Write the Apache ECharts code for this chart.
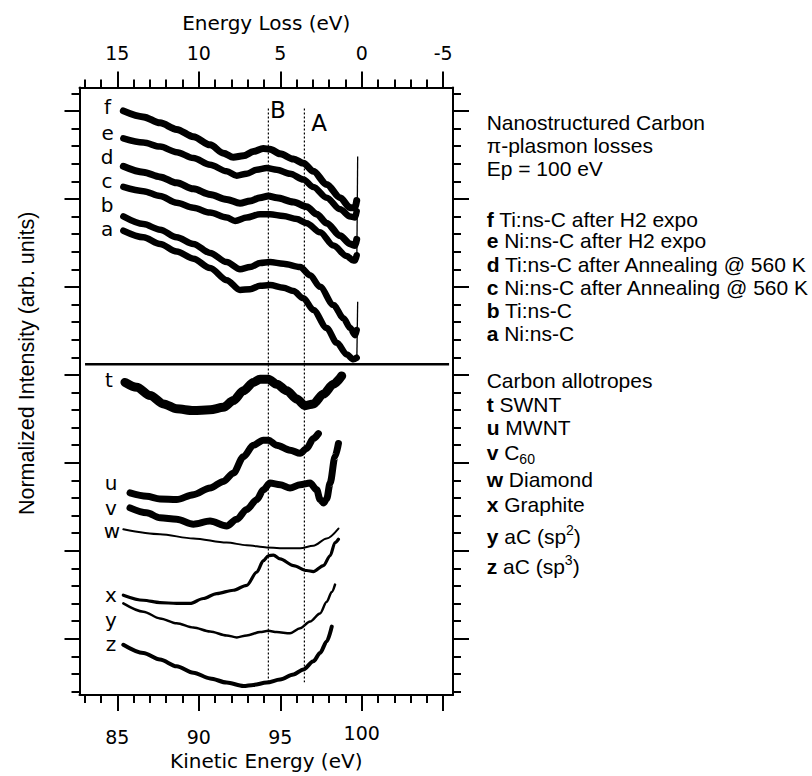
<!DOCTYPE html>
<html>
<head>
<meta charset="utf-8">
<script src="https://cdn.jsdelivr.net/npm/echarts@6/dist/echarts.min.js"></script>
<style>
html,body{margin:0;padding:0;background:#fff;}
#chart{width:812px;height:776px;}
</style>
</head>
<body>
<div id="chart"></div>
<script>
// ---------- axis ticks ----------
const kineticMajorTicks = [85, 90, 95, 100, 105];
const kineticLabelTicks = [85, 90, 95, 100];
const kineticMinorTicks = [83, 84, 86, 87, 88, 89, 91, 92, 93, 94, 96, 97, 98, 99, 101, 102, 103, 104];
const lossLabelTicks = [85, 90, 95, 100, 105];          // positions on kinetic scale; label = 100 - KE
const intensityMajorTicks = [0, 5, 10, 15, 20, 25, 30];
const intensityMinorTicks = [-3, -2, -1, 1, 2, 3, 4, 6, 7, 8, 9, 11, 12, 13, 14, 16, 17, 18, 19, 21, 22, 23, 24, 26, 27, 28, 29, 31];

// ---------- nanostructured carbon (upper panel) ----------
const curveF = [[85.37,30.00],[86.60,29.66],[87.62,29.32],[88.64,28.95],[89.67,28.53],[90.69,28.07],[91.51,27.60],[92.12,27.37],[92.74,27.45],[93.35,27.69],[93.96,27.86],[94.37,27.82],[94.99,27.56],[95.81,27.26],[96.42,27.03],[97.03,26.57],[97.85,25.82],[98.67,25.07],[99.29,24.50],[99.59,24.50],[99.69,24.90]];
const curveE = [[85.37,28.44],[86.60,28.20],[87.62,27.97],[88.64,27.65],[89.67,27.32],[90.69,26.94],[91.71,26.57],[92.33,26.32],[92.94,26.43],[93.56,26.66],[94.17,26.75],[94.78,26.66],[95.60,26.43],[96.42,26.10],[97.03,25.68],[97.85,25.07],[98.67,24.41],[99.29,24.00],[99.59,23.94],[99.69,24.30]];
const curveD = [[85.37,26.85],[86.60,26.51],[87.62,26.25],[88.64,25.91],[89.67,25.57],[90.69,25.25],[91.71,24.97],[92.53,24.75],[93.15,24.88],[93.76,25.07],[94.27,25.16],[94.78,25.07],[95.81,24.82],[96.62,24.56],[97.24,24.13],[97.85,23.62],[98.67,22.91],[99.29,22.44],[99.59,22.35],[99.69,22.70]];
const curveC = [[85.37,25.68],[86.60,25.44],[87.62,25.16],[88.64,24.78],[89.67,24.50],[90.69,24.22],[91.71,23.94],[92.23,23.75],[92.94,23.94],[93.76,24.13],[94.37,24.13],[95.19,24.03],[96.01,23.85],[96.62,23.62],[97.44,23.10],[98.26,22.35],[99.08,21.75],[99.49,21.50],[99.59,21.50],[99.69,21.80]];
const curveB = [[85.37,24.00],[86.60,23.57],[87.62,23.25],[88.64,22.82],[89.67,22.44],[90.69,21.93],[91.71,21.41],[92.53,21.00],[93.15,21.13],[93.76,21.35],[94.37,21.41],[95.19,21.32],[96.22,21.13],[96.83,20.66],[97.44,20.00],[98.26,18.97],[98.88,18.22],[99.29,17.66],[99.59,17.25],[99.69,17.55]];
const curveA = [[85.37,23.19],[86.60,22.82],[87.62,22.44],[88.64,22.01],[89.67,21.60],[90.69,21.07],[91.71,20.38],[92.53,19.82],[93.15,19.87],[93.76,20.06],[94.37,20.10],[95.19,19.95],[95.81,19.76],[96.42,19.35],[97.03,18.69],[97.85,17.66],[98.47,16.82],[99.08,16.16],[99.49,15.88],[99.69,15.97]];
const elasticSpikeUpper = [[99.70,21.60],[99.75,27.41]];
const elasticSpikeLower = [[99.70,15.95],[99.75,19.16]];

// ---------- carbon allotropes (lower panel) ----------
const curveT = [[85.47,14.57],[86.19,14.29],[87.01,13.82],[87.83,13.35],[88.64,13.07],[89.67,12.97],[90.69,13.01],[91.51,13.16],[92.12,13.54],[92.74,14.10],[93.35,14.57],[93.76,14.75],[94.27,14.75],[94.78,14.47],[95.40,14.10],[96.01,13.63],[96.52,13.25],[97.03,13.35],[97.65,13.91],[98.26,14.47],[98.77,14.94]];
const curveU = [[85.78,8.29],[86.80,8.10],[87.62,7.95],[88.64,7.91],[89.67,8.19],[90.69,8.57],[91.51,8.94],[92.12,9.41],[92.74,10.35],[93.35,11.00],[93.96,11.29],[94.27,11.29],[94.78,11.00],[95.60,10.72],[96.22,10.54],[96.62,10.82],[97.03,11.38],[97.34,11.66]];
const curveV = [[85.78,7.44],[86.80,7.16],[87.62,6.88],[88.64,6.79],[89.67,6.51],[90.69,6.69],[91.71,6.41],[92.33,6.79],[92.94,7.35],[93.56,7.91],[93.96,8.47],[94.37,8.85],[94.99,8.76],[95.60,8.57],[96.22,8.76],[96.83,8.85],[97.24,8.47],[97.44,7.91],[97.65,7.72],[97.85,7.95],[98.06,8.85],[98.36,10.35],[98.57,11.10]];
const curveW = [[85.37,6.22],[87.62,5.94],[89.67,5.70],[91.71,5.47],[92.94,5.32],[94.17,5.19],[95.40,5.14],[96.22,5.14],[97.03,5.29],[97.85,5.70],[98.57,6.26]];
const curveX = [[85.37,2.48],[86.60,2.19],[87.62,2.06],[88.64,2.01],[89.46,2.01],[90.28,2.29],[91.10,2.57],[92.12,2.76],[92.94,3.04],[93.56,3.79],[93.96,4.44],[94.27,4.72],[94.58,4.76],[94.99,4.54],[95.81,4.16],[96.62,3.88],[97.03,3.82],[97.65,4.16],[98.06,4.72],[98.36,5.47],[98.57,5.66]];
const curveY = [[85.37,2.01],[86.60,1.54],[87.62,1.16],[88.64,0.88],[89.67,0.64],[90.69,0.41],[91.71,0.19],[92.33,0.08],[92.94,0.19],[93.76,0.38],[94.27,0.45],[94.78,0.38],[95.60,0.32],[96.22,0.60],[96.83,0.98],[97.44,1.44],[97.85,2.10],[98.16,2.66],[98.36,3.08]];
const curveZ = [[85.37,-0.34],[86.60,-0.81],[87.62,-1.18],[88.64,-1.56],[89.67,-1.93],[90.69,-2.25],[91.71,-2.49],[92.74,-2.68],[93.35,-2.62],[94.17,-2.49],[94.99,-2.31],[95.81,-2.03],[96.42,-1.74],[97.03,-1.28],[97.44,-0.81],[97.85,-0.15],[98.16,0.69]];

// ---------- reference lines ----------
const featureB = 94.27;   // kinetic energy of feature B
const featureA = 96.48;   // kinetic energy of feature A
const featureSpan = [30.13, -2.47];
const panelDivider = 15.6;
const panelDividerSpan = [83.02, 105.36];

const AX = 'DejaVu Sans';
const HV = 'Liberation Sans';
const BLACK = '#000';

function curve(name, data, width) {
  return { name, type: 'line', data, xAxisIndex: 0, yAxisIndex: 0, symbol: 'none', showSymbol: false,
    smooth: 0.3, smoothMonotone: 'x', silent: true, lineStyle: { color: BLACK, width, cap: 'round', join: 'round' } };
}
function straight(name, data, width, type) {
  return { name, type: 'line', data, xAxisIndex: 0, yAxisIndex: 0, symbol: 'none', showSymbol: false,
    silent: true, lineStyle: { color: BLACK, width, type: type || 'solid' } };
}

const axLine = { show: true, onZero: false, lineStyle: { color: BLACK, width: 2 } };
const noLine = { show: false, onZero: false };
const xMin = 82.68, xMax = 105.6, yMin = -3.2, yMax = 31.33;

function tickCfg(values, len) {
  return { show: true, inside: false, length: len, customValues: values, lineStyle: { color: BLACK, width: 2 } };
}

const option = {
  backgroundColor: '#fff',
  animation: false,
  grid: { left: 79.5, right: 359, top: 87.5, bottom: 75, containLabel: false },
  xAxis: [
    { type: 'value', position: 'bottom', min: xMin, max: xMax, axisLine: axLine, splitLine: { show: false },
      axisTick: tickCfg(kineticMajorTicks, 16),
      axisLabel: { show: true, customValues: kineticLabelTicks, margin: 28, color: BLACK,
        formatter: v => (v === 100 ? '{r|100}' : '{n|' + v + '}'),
        rich: { n: { fontFamily: AX, fontSize: 19, color: BLACK, padding: [4, 0, 0, 0] },
                r: { fontFamily: AX, fontSize: 19, color: BLACK } } },
      name: 'Kinetic Energy (eV)', nameLocation: 'middle', nameGap: 45,
      nameTextStyle: { fontFamily: AX, fontSize: 20, color: BLACK } },
    { type: 'value', position: 'bottom', min: xMin, max: xMax, axisLine: noLine, splitLine: { show: false },
      axisTick: tickCfg(kineticMinorTicks, 8), axisLabel: { show: false } },
    { type: 'value', position: 'top', min: xMin, max: xMax, axisLine: axLine, splitLine: { show: false },
      axisTick: tickCfg(kineticMajorTicks, 16),
      axisLabel: { show: true, customValues: lossLabelTicks, margin: 25, color: BLACK, fontFamily: AX, fontSize: 19,
        formatter: v => String(Math.round(100 - v)) },
      name: 'Energy Loss (eV)', nameLocation: 'middle', nameGap: 55,
      nameTextStyle: { fontFamily: AX, fontSize: 20, color: BLACK } },
    { type: 'value', position: 'top', min: xMin, max: xMax, axisLine: noLine, splitLine: { show: false },
      axisTick: tickCfg(kineticMinorTicks, 8), axisLabel: { show: false } }
  ],
  yAxis: [
    { type: 'value', position: 'left', min: yMin, max: yMax, axisLine: axLine, splitLine: { show: false },
      axisTick: tickCfg(intensityMajorTicks, 15), axisLabel: { show: false },
      name: 'Normalized Intensity (arb. units)', nameLocation: 'middle', nameRotate: 90, nameGap: 42,
      nameTextStyle: { fontFamily: HV, fontSize: 21.5, color: BLACK, padding: [0, 0, 0, 56] } },
    { type: 'value', position: 'left', min: yMin, max: yMax, axisLine: noLine, splitLine: { show: false },
      axisTick: tickCfg(intensityMinorTicks, 8), axisLabel: { show: false } },
    { type: 'value', position: 'right', min: yMin, max: yMax, axisLine: axLine, splitLine: { show: false },
      axisTick: tickCfg(intensityMajorTicks, 16), axisLabel: { show: false } },
    { type: 'value', position: 'right', min: yMin, max: yMax, axisLine: noLine, splitLine: { show: false },
      axisTick: tickCfg(intensityMinorTicks, 8), axisLabel: { show: false } }
  ],
  series: [
    straight('B', [[featureB, featureSpan[0]], [featureB, featureSpan[1]]], 1.2, [2, 2]),
    straight('A', [[featureA, featureSpan[0]], [featureA, featureSpan[1]]], 1.2, [2, 2]),
    straight('divider', [[panelDividerSpan[0], panelDivider], [panelDividerSpan[1], panelDivider]], 2.5),
    curve('f', curveF, 7), curve('e', curveE, 6.5), curve('d', curveD, 7),
    curve('c', curveC, 6.5), curve('b', curveB, 6.5), curve('a', curveA, 6.5),
    straight('elastic upper', elasticSpikeUpper, 1.3), straight('elastic lower', elasticSpikeLower, 1.3),
    curve('t', curveT, 9), curve('u', curveU, 7), curve('v', curveV, 7),
    curve('w', curveW, 2), curve('x', curveX, 3.2), curve('y', curveY, 2.5), curve('z', curveZ, 4)
  ],
  graphic: { elements: [] }
};

// ---------- text annotations ----------
const els = option.graphic.elements;
function label(text, x, y, size, family) {
  els.push({ type: 'text', x, y, silent: true,
    style: { text, fontSize: size, fontFamily: family, fill: BLACK, textAlign: 'center', textVerticalAlign: 'middle' } });
}
[['f',107.5,107],['e',107.7,132.5],['d',107,156.5],['c',107,180.5],['b',107,205],['a',107,228.5],
 ['t',109,380],['u',111,482.5],['v',111,507.5],['w',112,530.5],['x',111,595],['y',111,619.5],['z',111,643.5]]
  .forEach(p => label(p[0], p[1], p[2], 20, AX));
label('B', 278, 110, 23, AX);
label('A', 319, 123, 23, AX);

const rich = {
  b: { fontSize: 21, fontFamily: HV, fontWeight: 'bold', fill: BLACK },
  sub: { fontSize: 14, fontFamily: HV, lineHeight: 14, verticalAlign: 'bottom', fill: BLACK },
  sup: { fontSize: 14, fontFamily: HV, lineHeight: 14, verticalAlign: 'top', fill: BLACK }
};
function note(text, y) {
  els.push({ type: 'text', x: 486.7, y, silent: true,
    style: { text, fontSize: 21, fontFamily: HV, fill: BLACK, lineHeight: 26, textAlign: 'left', textVerticalAlign: 'middle', rich } });
}
note('Nanostructured Carbon', 122);
note('\u03c0-plasmon losses', 145);
note('Ep = 100 eV', 168.3);
note('{b|f} Ti:ns-C after H2 expo', 219.3);
note('{b|e} Ni:ns-C after H2 expo', 240.7);
note('{b|d} Ti:ns-C after Annealing @ 560 K', 264);
note('{b|c} Ni:ns-C after Annealing @ 560 K', 287.3);
note('{b|b} Ti:ns-C', 310);
note('{b|a} Ni:ns-C', 333);
note('Carbon allotropes', 380.8);
note('{b|t} SWNT', 404);
note('{b|u} MWNT', 427.5);
note('{b|v} C{sub|60}', 452.5);
note('{b|w} Diamond', 479);
note('{b|x} Graphite', 504);
note('{b|y} aC (sp{sup|2})', 536);
note('{b|z} aC (sp{sup|3})', 566);

const chart = echarts.init(document.getElementById('chart'), null, { renderer: 'svg' });
chart.setOption(option);
</script>
</body>
</html>
